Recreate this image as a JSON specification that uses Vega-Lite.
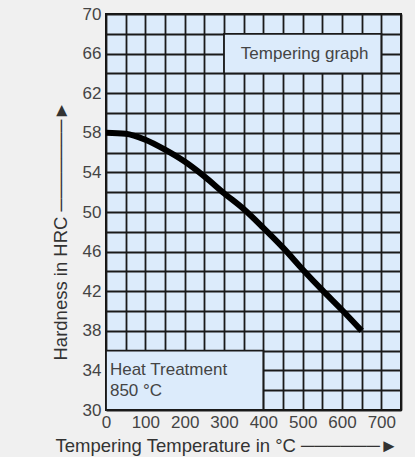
{
  "$schema": "https://vega.github.io/schema/vega-lite/v6.json",
  "width": 295,
  "height": 396,
  "autosize": {"type": "none"},
  "padding": {"left": 106, "top": 14, "right": 14, "bottom": 47},
  "background": "#f0f0f0",
  "config": {
    "font": "Liberation Sans",
    "view": {"stroke": "#111111", "strokeWidth": 2, "fill": "#dcebfb"}
  },
  "datasets": {
    "curve": [
      {"x": 0, "y": 58.0},
      {"x": 50, "y": 57.9},
      {"x": 100, "y": 57.3},
      {"x": 150, "y": 56.3},
      {"x": 200, "y": 55.1},
      {"x": 250, "y": 53.6},
      {"x": 300, "y": 51.9},
      {"x": 350, "y": 50.3},
      {"x": 400, "y": 48.4},
      {"x": 450, "y": 46.4},
      {"x": 500, "y": 44.2},
      {"x": 550, "y": 42.1},
      {"x": 600, "y": 40.1},
      {"x": 650, "y": 38.0}
    ],
    "boxes": [
      {"x": 300, "x2": 700, "y": 64, "y2": 68},
      {"x": 0, "x2": 400, "y": 30, "y2": 36}
    ],
    "label1": [
      {"x": 505, "y": 66, "label": "Tempering graph"}
    ],
    "label2": [
      {"x": 10, "y": 34, "label": "Heat Treatment\n850 °C"}
    ]
  },
  "encoding": {
    "x": {"field": "x", "type": "quantitative",
          "scale": {"domain": [0, 750], "nice": false},
          "axis": {
            "values": [0, 50, 100, 150, 200, 250, 300, 350, 400, 450, 500, 550, 600, 650, 700, 750],
            "labelExpr": "datum.value % 100 == 0 ? datum.label : ''",
            "labelOverlap": false,
            "labelFlush": false,
            "ticks": false,
            "domain": false,
            "grid": true,
            "gridColor": "#1a1a1a",
            "gridWidth": 1.8,
            "gridOpacity": 1,
            "labelFontSize": 17,
            "labelColor": "#444444",
            "labelPadding": 4,
            "title": "Tempering Temperature in °C ──────►",
            "titleX": -51,
            "titleY": 41,
            "titleAlign": "left",
            "titleAnchor": null,
            "titleBaseline": "alphabetic",
            "titleFontSize": 18.5,
            "titleFontWeight": "normal",
            "titleColor": "#333333"
          }},
    "y": {"field": "y", "type": "quantitative",
          "scale": {"domain": [30, 70], "nice": false, "zero": false},
          "axis": {
            "values": [30, 32, 34, 36, 38, 40, 42, 44, 46, 48, 50, 52, 54, 56, 58, 60, 62, 64, 66, 68, 70],
            "labelExpr": "datum.value % 4 == 2 ? datum.label : ''",
            "labelOverlap": false,
            "labelFlush": false,
            "ticks": false,
            "domain": false,
            "grid": true,
            "gridColor": "#1a1a1a",
            "gridWidth": 1.8,
            "gridOpacity": 1,
            "labelFontSize": 17,
            "labelColor": "#444444",
            "labelPadding": 5,
            "title": "Hardness in HRC ───────►",
            "titleAngle": -90,
            "titleX": -40,
            "titleY": 346,
            "titleAlign": "left",
            "titleAnchor": null,
            "titleBaseline": "alphabetic",
            "titleFontSize": 18.5,
            "titleFontWeight": "normal",
            "titleColor": "#333333"
          }}
  },
  "layer": [
    {
      "data": {"name": "boxes"},
      "mark": {"type": "rect", "fill": "#dcebfb", "stroke": "#1a1a1a", "strokeWidth": 1.8},
      "encoding": {
        "x2": {"field": "x2"},
        "y2": {"field": "y2"}
      }
    },
    {
      "data": {"name": "label1"},
      "mark": {"type": "text", "fontSize": 17, "color": "#444444", "baseline": "middle", "align": "center"},
      "encoding": {
        "text": {"field": "label"}
      }
    },
    {
      "data": {"name": "label2"},
      "mark": {"type": "text", "fontSize": 17, "color": "#444444", "baseline": "middle", "align": "left", "lineBreak": "\n", "lineHeight": 21},
      "encoding": {
        "text": {"field": "label"}
      }
    },
    {
      "data": {"name": "curve"},
      "mark": {"type": "line", "color": "#000000", "strokeWidth": 6, "interpolate": "monotone", "strokeCap": "butt"},
      "encoding": {}
    }
  ]
}
